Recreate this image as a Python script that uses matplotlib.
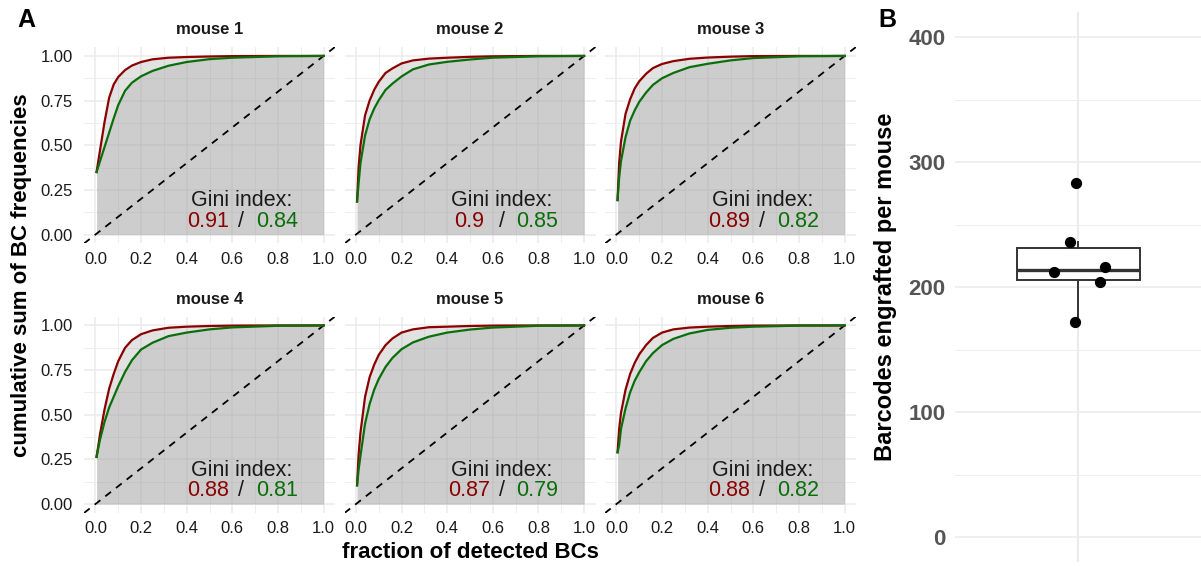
import numpy as np
import matplotlib
matplotlib.use("Agg")
from matplotlib import pyplot as plt

plt.rcParams["font.family"] = ["Liberation Sans", "DejaVu Sans"]

# shared x grid (fraction of detected BCs)
X = [0.005, 0.012, 0.02, 0.04, 0.06, 0.08, 0.10, 0.13, 0.16, 0.20, 0.25,
     0.32, 0.40, 0.50, 0.60, 0.80, 1.00]

RED = {
    "mouse 1": [0.35, 0.406, 0.47, 0.63, 0.765, 0.84, 0.882, 0.921, 0.946, 0.966,
                0.981, 0.99, 0.994, 0.997, 0.999, 1.0, 1.0],
    "mouse 2": [0.185, 0.38, 0.50, 0.667, 0.75, 0.81, 0.855, 0.905, 0.93, 0.958,
                0.975, 0.985, 0.99, 0.995, 0.998, 1.0, 1.0],
    "mouse 3": [0.193, 0.40, 0.52, 0.676, 0.757, 0.818, 0.858, 0.90, 0.932, 0.955,
                0.971, 0.984, 0.991, 0.996, 0.999, 1.0, 1.0],
    "mouse 4": [0.264, 0.32, 0.39, 0.53, 0.645, 0.728, 0.80, 0.875, 0.918, 0.951,
                0.972, 0.987, 0.993, 0.997, 0.999, 1.0, 1.0],
    "mouse 5": [0.105, 0.28, 0.40, 0.60, 0.71, 0.78, 0.835, 0.89, 0.927, 0.96,
                0.978, 0.99, 0.993, 0.997, 0.999, 1.0, 1.0],
    "mouse 6": [0.29, 0.42, 0.51, 0.64, 0.728, 0.79, 0.838, 0.89, 0.93, 0.96,
                0.978, 0.988, 0.993, 0.997, 0.999, 1.0, 1.0],
}
GREEN = {
    "mouse 1": [0.35, 0.378, 0.41, 0.49, 0.57, 0.65, 0.725, 0.805, 0.85, 0.886,
                0.916, 0.945, 0.966, 0.982, 0.99, 0.998, 1.0],
    "mouse 2": [0.185, 0.29, 0.40, 0.554, 0.645, 0.705, 0.752, 0.81, 0.845, 0.885,
                0.925, 0.952, 0.967, 0.98, 0.99, 0.998, 1.0],
    "mouse 3": [0.193, 0.32, 0.41, 0.545, 0.637, 0.695, 0.743, 0.795, 0.838, 0.875,
                0.905, 0.937, 0.956, 0.975, 0.988, 0.998, 1.0],
    "mouse 4": [0.264, 0.31, 0.36, 0.46, 0.54, 0.60, 0.66, 0.74, 0.805, 0.865,
                0.903, 0.94, 0.96, 0.978, 0.989, 0.998, 1.0],
    "mouse 5": [0.105, 0.195, 0.27, 0.45, 0.56, 0.64, 0.70, 0.768, 0.818, 0.867,
                0.905, 0.937, 0.96, 0.977, 0.988, 0.998, 1.0],
    "mouse 6": [0.29, 0.33, 0.42, 0.535, 0.625, 0.69, 0.738, 0.80, 0.845, 0.89,
                0.925, 0.955, 0.975, 0.987, 0.993, 0.999, 1.0],
}
GINI_RED = ["0.91", "0.9", "0.89", "0.88", "0.87", "0.88"]
GINI_GREEN = ["0.84", "0.85", "0.82", "0.81", "0.79", "0.82"]

# panel B: barcodes engrafted per mouse
BARCODES = [283, 236, 212, 216, 204, 172]
JITTER = [-0.012, -0.040, -0.119, 0.130, 0.106, -0.015]

DARKRED = "#8b0000"
DARKGREEN = "#0a6e0a"
GRID = "#ebebeb"

W, H = 1201, 566
fig = plt.figure(figsize=(W / 100, H / 100), dpi=100)


def px_axes(left, top, right, bottom):
    return fig.add_axes([left / W, 1 - bottom / H, (right - left) / W, (bottom - top) / H])


col_left = [84, 344.5, 605]
row_top = [47, 316.5]
pw, ph = 251, 196.5

for i, name in enumerate(RED):
    r, c = divmod(i, 3)
    ax = px_axes(col_left[c], row_top[r], col_left[c] + pw, row_top[r] + ph)
    ax.set_xlim(-0.05, 1.05)
    ax.set_ylim(-0.05, 1.05)
    ax.set_xticks(np.arange(0, 1.01, 0.2))
    ax.set_xticks(np.arange(0.1, 1.0, 0.2), minor=True)
    ax.set_yticks([0, 0.25, 0.5, 0.75, 1.0])
    ax.set_yticks([0.125, 0.375, 0.625, 0.875], minor=True)
    ax.grid(which="major", color=GRID, lw=1.1)
    ax.grid(which="minor", color=GRID, lw=0.6)
    ax.set_axisbelow(True)
    for s in ax.spines.values():
        s.set_visible(False)
    ax.tick_params(which="both", length=0, labelsize=12, labelcolor="#1a1a1a")
    ax.tick_params(axis="x", pad=6)
    ax.tick_params(axis="y", pad=8)
    ax.xaxis.set_major_formatter(plt.FuncFormatter(lambda v, p: f"{v:.1f}"))
    ax.yaxis.set_major_formatter(plt.FuncFormatter(lambda v, p: f"{v:.2f}"))
    if c > 0:
        ax.tick_params(axis="y", labelleft=False)

    ax.fill_between(X, RED[name], 0, color="#9a9a9a", alpha=0.28, lw=0, zorder=1)
    ax.fill_between(X, GREEN[name], 0, color="#9a9a9a", alpha=0.28, lw=0, zorder=1)
    ax.plot(X, RED[name], color=DARKRED, lw=1.6, zorder=3)
    ax.plot(X, GREEN[name], color=DARKGREEN, lw=1.6, zorder=3)
    ax.axline((0, 0), slope=1, color="black", lw=1.3, ls=(0, (4, 3.5)), zorder=2)

    ax.set_title(name, fontsize=12, fontweight="bold", color="#1a1a1a", pad=9)
    ax.text(0.64, 0.19, "Gini index:", ha="center", va="center", fontsize=15.5, color="#1a1a1a")
    ax.text(0.495, 0.075, GINI_RED[i], ha="center", va="center", fontsize=15.5, color=DARKRED)
    ax.text(0.64, 0.075, "/", ha="center", va="center", fontsize=15.5, color="#1a1a1a")
    ax.text(0.795, 0.075, GINI_GREEN[i], ha="center", va="center", fontsize=15.5, color=DARKGREEN)

fig.text(22 / W, 1 - 275 / H, "cumulative sum of BC frequencies", rotation=90,
         ha="center", va="center", fontsize=16, fontweight="bold")
fig.text(470 / W, 1 - 553 / H, "fraction of detected BCs",
         ha="center", va="center", fontsize=16, fontweight="bold")
fig.text(26 / W, 1 - 20 / H, "A", ha="center", va="center", fontsize=18, fontweight="bold")
fig.text(887 / W, 1 - 20 / H, "B", ha="center", va="center", fontsize=18, fontweight="bold")

# panel B
bx = px_axes(955, 12, 1201, 562)
bx.set_xlim(0.4, 1.6)
bx.set_ylim(-20, 420)
bx.set_yticks([0, 100, 200, 300, 400])
bx.set_yticks([50, 150, 250, 350], minor=True)
bx.set_xticks([1])
bx.grid(which="major", color=GRID, lw=1.1)
bx.grid(which="minor", axis="y", color=GRID, lw=0.6)
bx.set_axisbelow(True)
for s in bx.spines.values():
    s.set_visible(False)
bx.tick_params(which="both", length=0)
bx.tick_params(axis="x", labelbottom=False)
bx.tick_params(axis="y", labelsize=16, labelcolor="#555555", pad=7)
for lab in bx.get_yticklabels():
    lab.set_fontweight("bold")
bx.boxplot([BARCODES], positions=[1], widths=0.6, showfliers=False, patch_artist=True,
           boxprops=dict(facecolor="white", edgecolor="#333333", lw=1.4),
           medianprops=dict(color="#333333", lw=2.4),
           whiskerprops=dict(color="#333333", lw=1.4),
           capprops=dict(lw=0), zorder=2)
bx.scatter(1 + np.array(JITTER), BARCODES, s=50, color="black", zorder=3)
bx.set_ylabel("Barcodes engrafted per mouse", fontsize=17, fontweight="bold", labelpad=8)

fig.savefig("out.png", dpi=100)
